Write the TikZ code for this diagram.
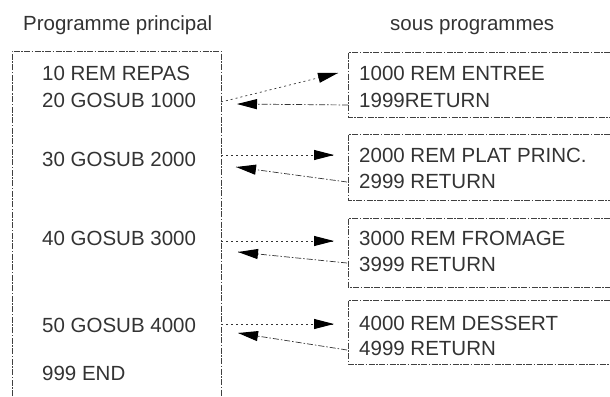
\documentclass[tikz,border=0pt]{standalone}
\usepackage{fontspec}
\setmainfont{Liberation Sans}
\usetikzlibrary{arrows.meta, calc}

\begin{document}
\begin{tikzpicture}[x=1pt, y=-1pt,
  txt/.style={anchor=base west, inner sep=0pt, font=\fontsize{20.5}{24}\selectfont, text=black!80},
  frame/.style={black!75, line width=0.7pt, dash pattern=on 6pt off 1.5pt on 1.5pt off 1.5pt},
  call/.style={black!80, line width=0.7pt, dash pattern=on 2pt off 3pt},
  ret/.style={black!80, line width=0.7pt, dash pattern=on 6pt off 2pt on 1.5pt off 2pt},
  head/.style={solid, black, line width=1pt, -{Triangle[length=20pt,width=10pt]}}]
  \useasboundingbox (0,0) rectangle (610,396);

  \node[txt] (tmain) at (23,31) {Programme principal};
  \node[txt] (tsub) at (390,31) {sous programmes};

  \draw[frame] (12,396) -- (12,51) -- (221,51) -- (221,396);
  \draw[frame] (610,52) -- (348,52) -- (348,117) -- (610,117);
  \draw[frame] (610,134) -- (348,134) -- (348,200) -- (610,200);
  \draw[frame] (610,218) -- (348,218) -- (348,287) -- (610,287);
  \draw[frame] (610,300) -- (348,300) -- (348,364) -- (610,364);

  \node[txt] (m10) at (42,81) {10 REM REPAS};
  \node[txt] (m20) at (42,107) {20 GOSUB 1000};
  \node[txt] (m30) at (42,166) {30 GOSUB 2000};
  \node[txt] (m40) at (42,245) {40 GOSUB 3000};
  \node[txt] (m50) at (42,332) {50 GOSUB 4000};
  \node[txt] (m999) at (42,380) {999 END};

  \node[txt] (s1000) at (359,81) {1000 REM ENTREE};
  \node[txt] (s1999) at (359,107) {1999RETURN};
  \node[txt] (s2000) at (359,162) {2000 REM PLAT PRINC.};
  \node[txt] (s2999) at (359,188) {2999 RETURN};
  \node[txt] (s3000) at (359,245) {3000 REM FROMAGE};
  \node[txt] (s3999) at (359,271) {3999 RETURN};
  \node[txt] (s4000) at (359,330) {4000 REM DESSERT};
  \node[txt] (s4999) at (359,355) {4999 RETURN};

  \coordinate (go1) at (221,102); \coordinate (in1) at (338,73);
  \coordinate (out1) at (348,105); \coordinate (back1) at (237,104);
  \coordinate (go2) at (221,155); \coordinate (in2) at (334,155);
  \coordinate (out2) at (347,182); \coordinate (back2) at (236,167);
  \coordinate (go3) at (221,241); \coordinate (in3) at (334,241);
  \coordinate (out3) at (347,263); \coordinate (back3) at (238,252);
  \coordinate (go4) at (221,324); \coordinate (in4) at (334,324);
  \coordinate (out4) at (347,350); \coordinate (back4) at (238,333);

  \draw[call] (go1) -- (in1);
  \draw[head] ($(in1)!15pt!(go1)$) -- (in1);
  \draw[ret] (out1) -- (back1);
  \draw[head] ($(back1)!15pt!(out1)$) -- (back1);
  \draw[call] (go2) -- (in2);
  \draw[head] ($(in2)!15pt!(go2)$) -- (in2);
  \draw[ret] (out2) -- (back2);
  \draw[head] ($(back2)!15pt!(out2)$) -- (back2);
  \draw[call] (go3) -- (in3);
  \draw[head] ($(in3)!15pt!(go3)$) -- (in3);
  \draw[ret] (out3) -- (back3);
  \draw[head] ($(back3)!15pt!(out3)$) -- (back3);
  \draw[call] (go4) -- (in4);
  \draw[head] ($(in4)!15pt!(go4)$) -- (in4);
  \draw[ret] (out4) -- (back4);
  \draw[head] ($(back4)!15pt!(out4)$) -- (back4);
\end{tikzpicture}
\end{document}
